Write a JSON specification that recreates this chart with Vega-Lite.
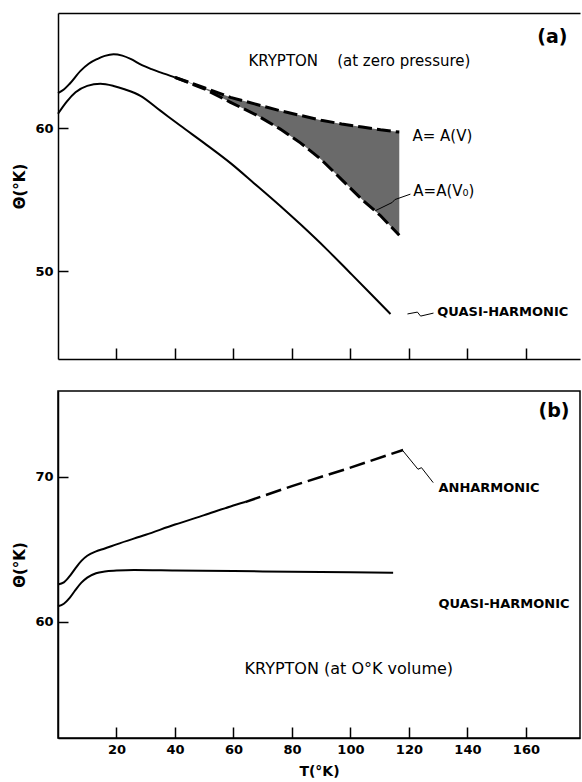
{
  "$schema": "https://vega.github.io/schema/vega-lite/v6.json",
  "padding": {"left": 12, "top": 13, "right": 0, "bottom": 0},
  "background": "white",
  "spacing": 30,
  "config": {
    "view": {"stroke": "black", "strokeWidth": 1.5},
    "axis": {
      "domainColor": "black", "domainWidth": 1.5,
      "tickColor": "black", "tickWidth": 1.5,
      "grid": false,
      "labelFont": "DejaVu Sans", "labelFontWeight": "bold", "labelFontSize": 13, "labelColor": "black",
      "titleFont": "DejaVu Sans", "titleFontWeight": "bold", "titleColor": "black"
    },
    "text": {"font": "DejaVu Sans", "color": "black"}
  },
  "datasets": {
    "top_upper_solid": [
      {"T": 0, "theta": 62.45}, {"T": 2, "theta": 62.7}, {"T": 4, "theta": 63.1},
      {"T": 7.7, "theta": 64.0}, {"T": 10.5, "theta": 64.5}, {"T": 13.4, "theta": 64.83},
      {"T": 16, "theta": 65.05}, {"T": 19, "theta": 65.17}, {"T": 22, "theta": 65.07},
      {"T": 25, "theta": 64.82}, {"T": 28.2, "theta": 64.45}, {"T": 32, "theta": 64.12},
      {"T": 35, "theta": 63.9}, {"T": 40, "theta": 63.55}
    ],
    "band": [
      {"T": 40, "upper": 63.55, "lower": 63.55},
      {"T": 50, "upper": 62.83, "lower": 62.75},
      {"T": 59, "upper": 62.15, "lower": 61.8},
      {"T": 68, "upper": 61.65, "lower": 60.9},
      {"T": 76, "upper": 61.21, "lower": 59.93},
      {"T": 83, "upper": 60.88, "lower": 58.95},
      {"T": 90, "upper": 60.55, "lower": 57.8},
      {"T": 97, "upper": 60.29, "lower": 56.4},
      {"T": 104, "upper": 60.07, "lower": 55.0},
      {"T": 110.3, "upper": 59.88, "lower": 53.87},
      {"T": 116.7, "upper": 59.72, "lower": 52.5}
    ],
    "top_quasi": [
      {"T": 0, "theta": 61.0}, {"T": 3, "theta": 61.85}, {"T": 6, "theta": 62.5},
      {"T": 10, "theta": 62.95}, {"T": 14.5, "theta": 63.1}, {"T": 19, "theta": 62.95},
      {"T": 23, "theta": 62.7}, {"T": 28.2, "theta": 62.26}, {"T": 35, "theta": 61.22},
      {"T": 41.9, "theta": 60.16}, {"T": 50, "theta": 58.95}, {"T": 59, "theta": 57.55},
      {"T": 67, "theta": 56.15}, {"T": 76, "theta": 54.55}, {"T": 83, "theta": 53.25},
      {"T": 92, "theta": 51.5}, {"T": 100, "theta": 49.85}, {"T": 107, "theta": 48.4},
      {"T": 113.7, "theta": 47.0}
    ],
    "top_leaders": [
      {"leader": "V0", "T": 108.5, "theta": 54.22}, {"leader": "V0", "T": 114.3, "theta": 54.8},
      {"leader": "V0", "T": 115.2, "theta": 55.0}, {"leader": "V0", "T": 120.5, "theta": 55.38},
      {"leader": "QH", "T": 119.5, "theta": 47.0}, {"leader": "QH", "T": 122.9, "theta": 47.13},
      {"leader": "QH", "T": 124.0, "theta": 46.85}, {"leader": "QH", "T": 128.4, "theta": 47.06}
    ],
    "anh_solid": [
      {"T": 0, "theta": 62.58}, {"T": 2, "theta": 62.72}, {"T": 4, "theta": 63.15},
      {"T": 6, "theta": 63.7}, {"T": 8, "theta": 64.2}, {"T": 10, "theta": 64.55},
      {"T": 13, "theta": 64.85}, {"T": 16, "theta": 65.05}, {"T": 20, "theta": 65.34},
      {"T": 30, "theta": 66.0}, {"T": 40, "theta": 66.7}, {"T": 50, "theta": 67.35},
      {"T": 59, "theta": 67.95}, {"T": 64, "theta": 68.25}
    ],
    "anh_dashed": [
      {"T": 64, "theta": 68.25}, {"T": 80, "theta": 69.35}, {"T": 100, "theta": 70.62},
      {"T": 118, "theta": 71.84}
    ],
    "bot_quasi": [
      {"T": 0, "theta": 61.08}, {"T": 2, "theta": 61.25}, {"T": 4, "theta": 61.65},
      {"T": 6, "theta": 62.2}, {"T": 8, "theta": 62.7}, {"T": 10, "theta": 63.05},
      {"T": 13, "theta": 63.35}, {"T": 16, "theta": 63.47}, {"T": 20, "theta": 63.53},
      {"T": 26, "theta": 63.57}, {"T": 40, "theta": 63.54}, {"T": 60, "theta": 63.5},
      {"T": 80, "theta": 63.45}, {"T": 100, "theta": 63.41}, {"T": 114.6, "theta": 63.38}
    ],
    "bot_leaders": [
      {"leader": "ANH", "T": 118.0, "theta": 71.77}, {"leader": "ANH", "T": 123.1, "theta": 70.51},
      {"leader": "ANH", "T": 124.3, "theta": 70.62}, {"leader": "ANH", "T": 128.3, "theta": 69.59}
    ]
  },
  "vconcat": [
    {
      "width": 522,
      "height": 346,
      "view": {"stroke": null},
      "resolve": {"axis": {"x": "independent"}},
      "layer": [
        {
          "layer": [
            {
              "data": {"name": "band"},
              "mark": {"type": "area", "fill": "#6a6a6a", "stroke": null},
              "encoding": {
                "x": {"field": "T", "type": "quantitative",
                      "scale": {"domain": [0, 178.5], "nice": false, "zero": false},
                      "axis": {"orient": "bottom", "values": [20, 40, 60, 80, 100, 120, 140, 160], "labels": false, "tickSize": -11, "title": null}},
                "y": {"field": "upper", "type": "quantitative",
                      "scale": {"domain": [43.85, 68.05], "nice": false, "zero": false},
                      "axis": {"values": [50, 60], "tickSize": -10, "labelPadding": 15, "title": "Θ(°K)", "titleFontSize": 15, "titlePadding": 7}},
                "y2": {"field": "lower"}
              }
            },
            {
              "data": {"name": "band"},
              "mark": {"type": "line", "color": "black", "strokeWidth": 3, "strokeDash": [14, 5]},
              "encoding": {
                "x": {"field": "T", "type": "quantitative", "scale": {"domain": [0, 178.5], "nice": false, "zero": false}},
                "y": {"field": "upper", "type": "quantitative", "scale": {"domain": [43.85, 68.05], "nice": false, "zero": false}}
              }
            },
            {
              "data": {"name": "band"},
              "mark": {"type": "line", "color": "black", "strokeWidth": 3, "strokeDash": [14, 5]},
              "encoding": {
                "x": {"field": "T", "type": "quantitative", "scale": {"domain": [0, 178.5], "nice": false, "zero": false}},
                "y": {"field": "lower", "type": "quantitative", "scale": {"domain": [43.85, 68.05], "nice": false, "zero": false}}
              }
            },
            {
              "data": {"name": "top_upper_solid"},
              "mark": {"type": "line", "color": "black", "strokeWidth": 2, "interpolate": "monotone"},
              "encoding": {
                "x": {"field": "T", "type": "quantitative", "scale": {"domain": [0, 178.5], "nice": false, "zero": false}},
                "y": {"field": "theta", "type": "quantitative", "scale": {"domain": [43.85, 68.05], "nice": false, "zero": false}}
              }
            },
            {
              "data": {"name": "top_leaders"},
              "mark": {"type": "line", "color": "black", "strokeWidth": 1},
              "encoding": {
                "x": {"field": "T", "type": "quantitative", "scale": {"domain": [0, 178.5], "nice": false, "zero": false}},
                "y": {"field": "theta", "type": "quantitative", "scale": {"domain": [43.85, 68.05], "nice": false, "zero": false}},
                "detail": {"field": "leader"}
              }
            },
            {
              "data": {"values": [
                {"T": 65.1, "theta": 64.7, "label": "KRYPTON\u00a0\u00a0\u00a0\u00a0(at zero pressure)"},
                {"T": 121.2, "theta": 59.44, "label": "A= A(V)"},
                {"T": 121.5, "theta": 55.6, "label": "A=A(V₀)"}
              ]},
              "mark": {"type": "text", "align": "left", "baseline": "middle", "fontSize": 15},
              "encoding": {
                "x": {"field": "T", "type": "quantitative", "scale": {"domain": [0, 178.5], "nice": false, "zero": false}},
                "y": {"field": "theta", "type": "quantitative", "scale": {"domain": [43.85, 68.05], "nice": false, "zero": false}},
                "text": {"field": "label"}
              }
            },
            {
              "data": {"values": [
                {"T": 129.7, "theta": 47.13, "label": "QUASI-HARMONIC"}
              ]},
              "mark": {"type": "text", "align": "left", "baseline": "middle", "fontSize": 13, "fontWeight": "bold"},
              "encoding": {
                "x": {"field": "T", "type": "quantitative", "scale": {"domain": [0, 178.5], "nice": false, "zero": false}},
                "y": {"field": "theta", "type": "quantitative", "scale": {"domain": [43.85, 68.05], "nice": false, "zero": false}},
                "text": {"field": "label"}
              }
            },
            {
              "data": {"values": [
                {"T": 163.9, "theta": 66.36, "label": "(a)"}
              ]},
              "mark": {"type": "text", "align": "left", "baseline": "middle", "fontSize": 19, "fontWeight": "bold"},
              "encoding": {
                "x": {"field": "T", "type": "quantitative", "scale": {"domain": [0, 178.5], "nice": false, "zero": false}},
                "y": {"field": "theta", "type": "quantitative", "scale": {"domain": [43.85, 68.05], "nice": false, "zero": false}},
                "text": {"field": "label"}
              }
            }
          ]
        },
        {
          "data": {"name": "top_quasi"},
          "mark": {"type": "line", "color": "black", "strokeWidth": 2, "interpolate": "monotone"},
          "encoding": {
            "x": {"field": "T", "type": "quantitative", "scale": {"domain": [0, 178.5], "nice": false, "zero": false},
                  "axis": {"orient": "top", "ticks": false, "labels": false, "title": null}},
            "y": {"field": "theta", "type": "quantitative", "scale": {"domain": [43.85, 68.05], "nice": false, "zero": false}}
          }
        }
      ]
    },
    {
      "width": 522,
      "height": 347,
      "layer": [
        {
          "data": {"name": "anh_solid"},
          "mark": {"type": "line", "color": "black", "strokeWidth": 2, "interpolate": "monotone"},
          "encoding": {
            "x": {"field": "T", "type": "quantitative",
                  "scale": {"domain": [0, 178.5], "nice": false, "zero": false},
                  "axis": {"values": [20, 40, 60, 80, 100, 120, 140, 160], "tickSize": -11, "labelPadding": 16, "title": "T(°K)", "titleFontSize": 14, "titlePadding": 8}},
            "y": {"field": "theta", "type": "quantitative",
                  "scale": {"domain": [52, 75.9], "nice": false, "zero": false},
                  "axis": {"values": [60, 70], "tickSize": -10, "labelPadding": 15, "title": "Θ(°K)", "titleFontSize": 15, "titlePadding": 7}}
          }
        },
        {
          "data": {"name": "anh_dashed"},
          "mark": {"type": "line", "color": "black", "strokeWidth": 2.5, "strokeDash": [16, 6]},
          "encoding": {
            "x": {"field": "T", "type": "quantitative", "scale": {"domain": [0, 178.5], "nice": false, "zero": false}},
            "y": {"field": "theta", "type": "quantitative", "scale": {"domain": [52, 75.9], "nice": false, "zero": false}}
          }
        },
        {
          "data": {"name": "bot_quasi"},
          "mark": {"type": "line", "color": "black", "strokeWidth": 2, "interpolate": "monotone"},
          "encoding": {
            "x": {"field": "T", "type": "quantitative", "scale": {"domain": [0, 178.5], "nice": false, "zero": false}},
            "y": {"field": "theta", "type": "quantitative", "scale": {"domain": [52, 75.9], "nice": false, "zero": false}}
          }
        },
        {
          "data": {"name": "bot_leaders"},
          "mark": {"type": "line", "color": "black", "strokeWidth": 1},
          "encoding": {
            "x": {"field": "T", "type": "quantitative", "scale": {"domain": [0, 178.5], "nice": false, "zero": false}},
            "y": {"field": "theta", "type": "quantitative", "scale": {"domain": [52, 75.9], "nice": false, "zero": false}},
            "detail": {"field": "leader"}
          }
        },
        {
          "data": {"values": [
            {"T": 63.8, "theta": 56.74, "label": "KRYPTON (at O°K volume)"}
          ]},
          "mark": {"type": "text", "align": "left", "baseline": "middle", "fontSize": 16},
          "encoding": {
            "x": {"field": "T", "type": "quantitative", "scale": {"domain": [0, 178.5], "nice": false, "zero": false}},
            "y": {"field": "theta", "type": "quantitative", "scale": {"domain": [52, 75.9], "nice": false, "zero": false}},
            "text": {"field": "label"}
          }
        },
        {
          "data": {"values": [
            {"T": 130.1, "theta": 69.22, "label": "ANHARMONIC"},
            {"T": 130.1, "theta": 61.22, "label": "QUASI-HARMONIC"}
          ]},
          "mark": {"type": "text", "align": "left", "baseline": "middle", "fontSize": 13, "fontWeight": "bold"},
          "encoding": {
            "x": {"field": "T", "type": "quantitative", "scale": {"domain": [0, 178.5], "nice": false, "zero": false}},
            "y": {"field": "theta", "type": "quantitative", "scale": {"domain": [52, 75.9], "nice": false, "zero": false}},
            "text": {"field": "label"}
          }
        },
        {
          "data": {"values": [
            {"T": 164.3, "theta": 74.53, "label": "(b)"}
          ]},
          "mark": {"type": "text", "align": "left", "baseline": "middle", "fontSize": 19, "fontWeight": "bold"},
          "encoding": {
            "x": {"field": "T", "type": "quantitative", "scale": {"domain": [0, 178.5], "nice": false, "zero": false}},
            "y": {"field": "theta", "type": "quantitative", "scale": {"domain": [52, 75.9], "nice": false, "zero": false}},
            "text": {"field": "label"}
          }
        }
      ]
    }
  ]
}
